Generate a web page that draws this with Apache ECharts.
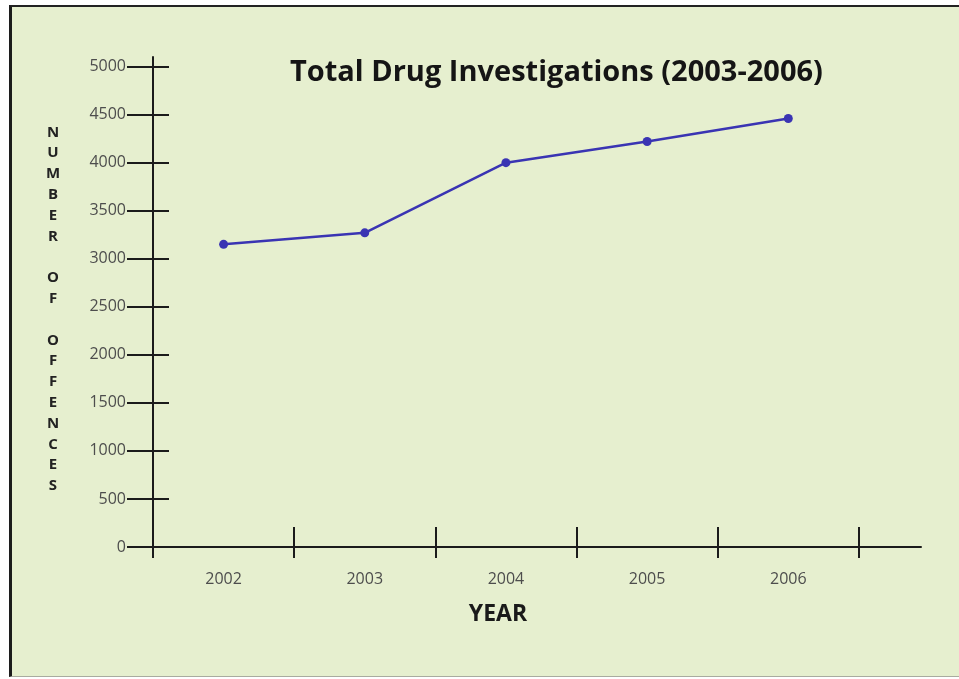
<!DOCTYPE html>
<html>
<head>
<meta charset="utf-8">
<title>Total Drug Investigations (2003-2006)</title>
<script src="https://cdn.jsdelivr.net/npm/echarts@6/dist/echarts.min.js"></script>
<style>
  html, body { margin: 0; padding: 0; background: #ffffff; }
  #panel {
    position: absolute; left: 9px; top: 5px; width: 947px; height: 669px;
    background: #e6efcf;
    border-left: 3px solid #1c1c1c;
    border-top: 2px solid #222222;
    border-bottom: 1px solid #a9ab9f;
  }
  #chart { position: absolute; left: 0; top: 0; width: 959px; height: 679px; }
</style>
</head>
<body>
<div id="panel"></div>
<div id="chart"></div>
<script>
// Drug offences by year
const years = ['2002', '2003', '2004', '2005', '2006'];
const offences = [3150, 3270, 4000, 4220, 4460];
const yTickValues = [0, 500, 1000, 1500, 2000, 2500, 3000, 3500, 4000, 4500, 5000];
const yTitle = 'NUMBER OF OFFENCES';
const xTitle = 'YEAR';
const chartTitle = 'Total Drug Investigations (2003-2006)';

// category boundaries and centres on a numeric x scale
const xBoundaries = years.map((_, i) => i).concat([years.length]);
const xCentres = years.map((_, i) => i + 0.5);

const axisColor = '#1b1b1b';
const lineStyle = { color: axisColor, width: 2 };

// stacked vertical axis title: one letter per line, blank line between words
const stackedTitle = yTitle.split('').join('\n');

const chart = echarts.init(document.getElementById('chart'));
chart.setOption({
  backgroundColor: 'transparent',
  animation: false,
  title: [
    {
      text: chartTitle, left: 285, top: 53,
      textStyle: { fontFamily: 'Open Sans', fontWeight: 'bold', fontSize: 29, color: '#151515' }
    },
    {
      text: stackedTitle, left: 48, top: 117, textAlign: 'center',
      textStyle: { fontFamily: 'Open Sans', fontWeight: 'bold', fontSize: 15, lineHeight: 20.8, color: '#222222' }
    },
    {
      text: xTitle, left: 493, top: 598, textAlign: 'center',
      textStyle: { fontFamily: 'Open Sans', fontWeight: 'bold', fontSize: 23, color: '#1a1a1a' }
    }
  ],
  grid: { left: 153, right: 38, top: 57, bottom: 132, containLabel: false },
  xAxis: [
    {
      type: 'value', min: 0, max: 5.44, position: 'bottom',
      axisLine: { show: true, onZero: false, lineStyle: lineStyle },
      axisTick: { show: true, inside: true, length: 20, customValues: xBoundaries, lineStyle: lineStyle },
      axisLabel: {
        show: true, customValues: xCentres, margin: 24,
        formatter: v => years[Math.round(v - 0.5)],
        fontFamily: 'Open Sans', fontSize: 16, color: '#4d4d4d'
      },
      splitLine: { show: false }
    },
    {
      type: 'value', min: 0, max: 5.44, position: 'bottom', offset: 0,
      axisLine: { show: false },
      axisTick: { show: true, inside: false, length: 11, customValues: xBoundaries, lineStyle: lineStyle },
      axisLabel: { show: false },
      splitLine: { show: false }
    }
  ],
  yAxis: [
    {
      type: 'value', min: 0, max: 5100, position: 'left',
      axisLine: { show: true, onZero: false, lineStyle: lineStyle },
      axisTick: { show: true, inside: false, length: 26, customValues: yTickValues, lineStyle: lineStyle },
      axisLabel: {
        show: true, customValues: yTickValues, margin: 27,
        formatter: v => String(v),
        fontFamily: 'Open Sans', fontSize: 16, color: '#4d4d4d'
      },
      splitLine: { show: false }
    },
    {
      type: 'value', min: 0, max: 5100, position: 'left', offset: 0,
      axisLine: { show: false },
      axisTick: { show: true, inside: true, length: 16, customValues: yTickValues, lineStyle: lineStyle },
      axisLabel: { show: false },
      splitLine: { show: false }
    }
  ],
  series: [
    {
      type: 'line',
      xAxisIndex: 0, yAxisIndex: 0,
      data: offences.map((v, i) => [xCentres[i], v]),
      symbol: 'circle', symbolSize: 9,
      lineStyle: { color: '#3a34b3', width: 2.5 },
      itemStyle: { color: '#3a34b3' }
    }
  ]
});
</script>
</body>
</html>
